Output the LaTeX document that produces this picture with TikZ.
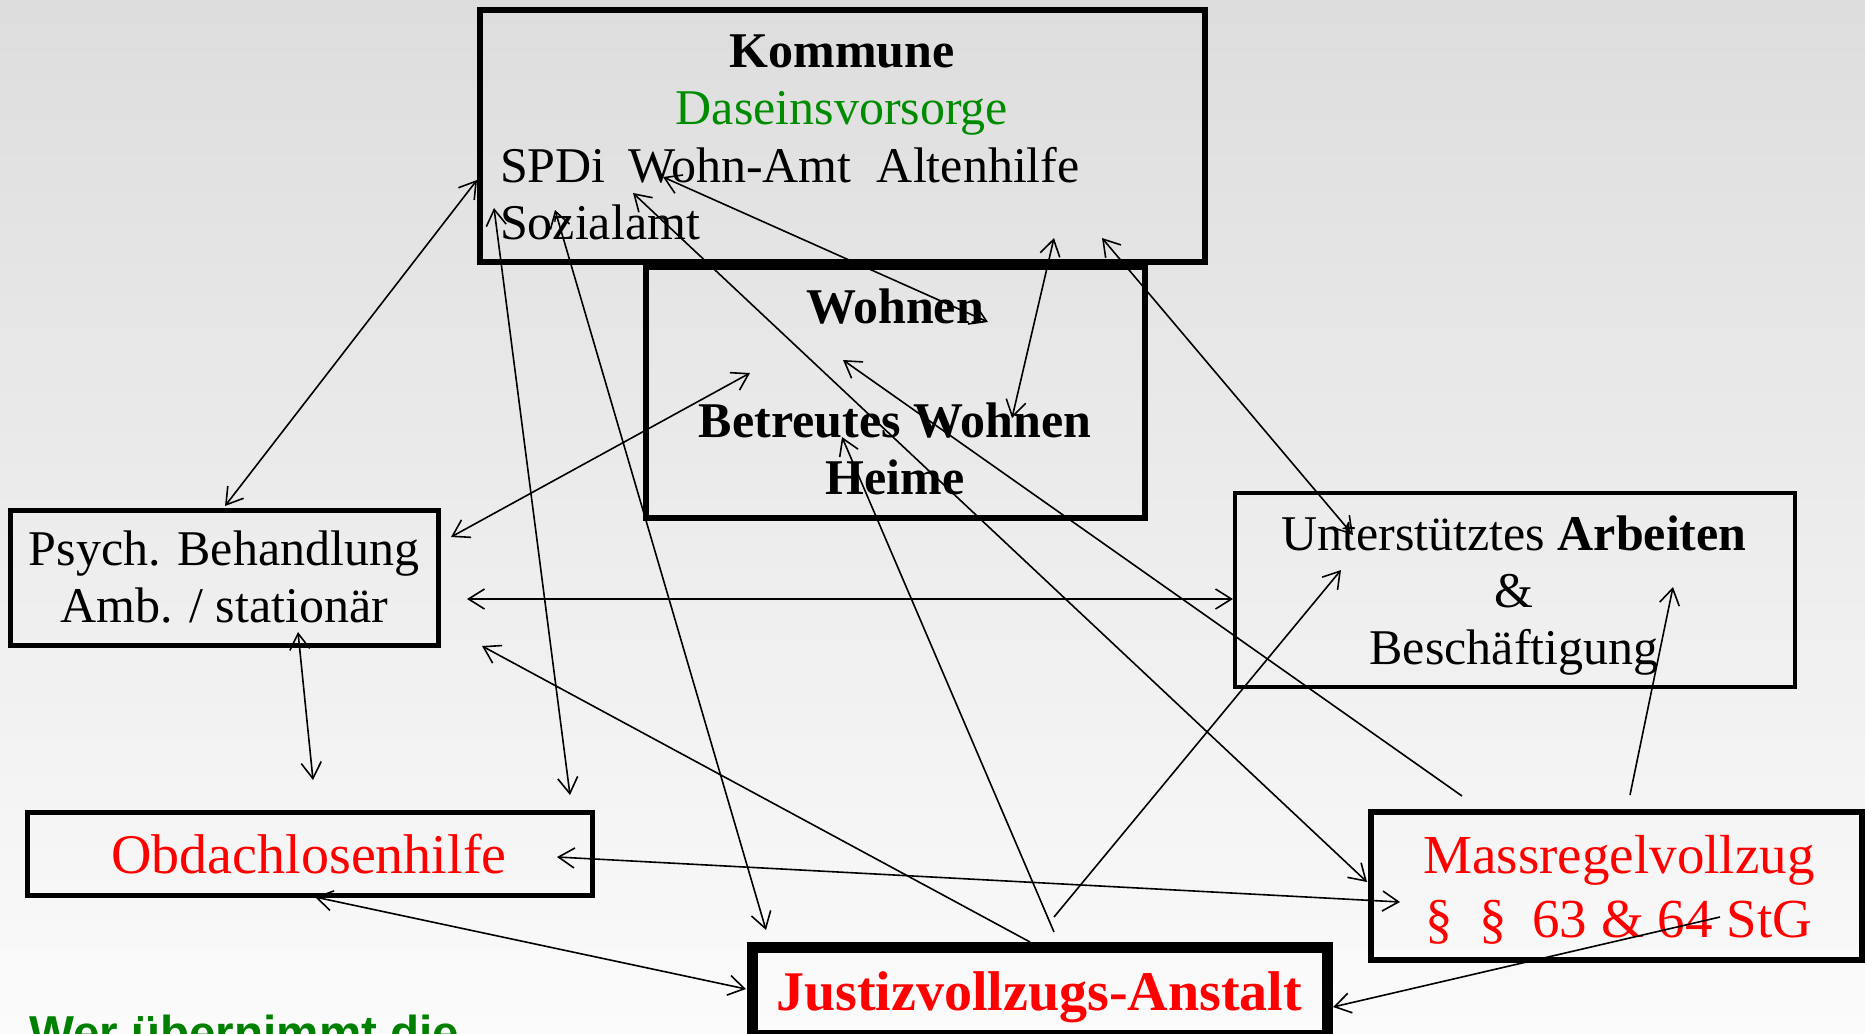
\documentclass[tikz,border=0pt]{standalone}
\usepackage{fontspec}
\setmainfont{Liberation Serif}
\newfontfamily\sansfont{Liberation Sans}
\usetikzlibrary{arrows.meta}
\definecolor{dgreen}{RGB}{0,140,0}
\definecolor{wgreen}{RGB}{0,128,0}
\definecolor{bgtop}{RGB}{221,221,221}
\definecolor{bgbot}{RGB}{251,251,251}
\begin{document}
\begin{tikzpicture}[x=0.5pt,y=-0.5pt,
  box/.style={draw=black, inner sep=0pt, outer sep=0pt},
  conn/.style={line width=0.8pt, draw=black},
  >={Straight Barb[length=8pt,width=10pt]},
  txt/.style={inner sep=0pt, outer sep=0pt, anchor=base},
  regular/.style={font=\fontsize{25}{28.5}\selectfont},
]
\useasboundingbox (0,0) rectangle (1865,1034);
\shade[top color=bgtop, bottom color=bgbot] (0,0) rectangle (1865,1034);

% boxes
\node[box, line width=3pt, minimum width=362.5pt, minimum height=126pt] (kommune) at (842.5,136) {};
\node[box, line width=3.2pt, minimum width=249.5pt, minimum height=125.5pt] (wohnen) at (895.5,392.5) {};
\node[box, line width=2.5pt, minimum width=214pt, minimum height=67.5pt] (psych) at (224,577.5) {};
\node[box, line width=2.4pt, minimum width=280pt, minimum height=97pt] (arbeit) at (1515,590) {};
\node[box, line width=2.5pt, minimum width=282.5pt, minimum height=41.5pt] (obdach) at (309.5,853.5) {};
\node[box, line width=5.5pt, minimum width=287.5pt, minimum height=44pt] (justiz) at (1039.5,991) {};
\node[box, line width=3.3pt, minimum width=245.5pt, minimum height=74pt] (mass) at (1616.5,886) {};

% texts
\node[txt, regular] (kommuneT) at (842,67) {\begin{tabular}[t]{@{}c@{}}\textbf{Kommune}\\ \textcolor{dgreen}{Daseinsvorsorge}\end{tabular}};
\node[txt, regular, anchor=base west] (aemterT) at (500,182) {\begin{tabular}[t]{@{}l@{}}SPDi\hspace{11.2pt}Wohn-Amt\hspace{12.6pt}Altenhilfe\\ Sozialamt\end{tabular}};
\node[txt, regular] (wohnenT) at (895,323) {\begin{tabular}[t]{@{}c@{}}\textbf{Wohnen}\\ \\ \textbf{Betreutes Wohnen}\\ \textbf{Heime}\end{tabular}};
\node[txt, regular] (psychT) at (224,565) {\begin{tabular}[t]{@{}c@{}}Psych. Behandlung\\ Amb. / stationär\end{tabular}};
\node[txt, regular] (arbeitT) at (1514,550) {\begin{tabular}[t]{@{}c@{}}Unterstütztes \textbf{Arbeiten}\\ \&\\ Beschäftigung\end{tabular}};
\node[txt, font=\fontsize{28}{32}\selectfont, text=red] (obdachT) at (309,873) {Obdachlosenhilfe};
\node[txt, font=\fontsize{28}{32}\selectfont\bfseries, text=red] (justizT) at (1039,1010) {Justizvollzugs-Anstalt};
\node[txt, font=\fontsize{27.5}{32}\selectfont, text=red] (massT) at (1619,873) {\begin{tabular}[t]{@{}c@{}}Massregelvollzug\\ §\hspace{6pt} §\hspace{6pt} 63 \& 64 StG\end{tabular}};
\node[txt, anchor=base west, font=\sansfont\bfseries\fontsize{23.8}{28}\selectfont, text=wgreen] (frage) at (29,1049) {Wer übernimmt die};

% connector end points
\coordinate (a1) at (225,506);   \coordinate (b1) at (477,180);
\coordinate (a2) at (494,208);   \coordinate (b2) at (570,795);
\coordinate (a3) at (555,210);   \coordinate (b3) at (766,930);
\coordinate (a4) at (633,193);   \coordinate (b4) at (1367,882);
\coordinate (a5) at (1462,796);  \coordinate (b5) at (843,360);
\coordinate (a6) at (663,177);   \coordinate (b6) at (988,322);
\coordinate (a7) at (1012,418);  \coordinate (b7) at (1054,238);
\coordinate (a8) at (1353,535);  \coordinate (b8) at (1102,238);
\coordinate (a9) at (451,537);   \coordinate (b9) at (750,373);
\coordinate (a10) at (467,599);  \coordinate (b10) at (1233,599);
\coordinate (a11) at (298,632);  \coordinate (b11) at (313,780);
\coordinate (a12) at (1030,942); \coordinate (b12) at (482,646);
\coordinate (a13) at (1054,932); \coordinate (b13) at (842,437);
\coordinate (a14) at (1054,917); \coordinate (b14) at (1341,570);
\coordinate (a15) at (1630,795); \coordinate (b15) at (1673,587);
\coordinate (a16) at (557,857);  \coordinate (b16) at (1400,902);
\coordinate (a17) at (315,897);  \coordinate (b17) at (746,989);
\coordinate (a18) at (1720,917); \coordinate (b18) at (1333,1007);

% connectors
\draw[conn,<->] (a1) -- (b1);
\draw[conn,<->] (a2) -- (b2);
\draw[conn,<->] (a3) -- (b3);
\draw[conn,<->] (a4) -- (b4);
\draw[conn,->] (a5) -- (b5);
\draw[conn,<->] (a6) -- (b6);
\draw[conn,<->] (a7) -- (b7);
\draw[conn,<->] (a8) -- (b8);
\draw[conn,<->] (a9) -- (b9);
\draw[conn,<->] (a10) -- (b10);
\draw[conn,<->] (a11) -- (b11);
\draw[conn,->] (a12) -- (b12);
\draw[conn,->] (a13) -- (b13);
\draw[conn,->] (a14) -- (b14);
\draw[conn,->] (a15) -- (b15);
\draw[conn,<->] (a16) -- (b16);
\draw[conn,<->] (a17) -- (b17);
\draw[conn,->] (a18) -- (b18);
\end{tikzpicture}
\end{document}
